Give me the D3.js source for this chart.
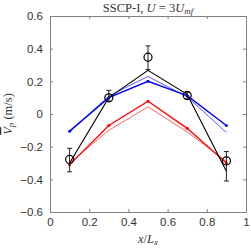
<!DOCTYPE html>
<html>
<head>
<meta charset="utf-8">
<script src="https://cdn.jsdelivr.net/npm/d3@7"></script>
<style>
body { margin: 0; background: #fff; }
svg { display: block; }
</style>
</head>
<body>
<script>
var xPos = [0.1, 0.3, 0.5, 0.7, 0.9];
var expMean = [-0.278, 0.099, 0.348, 0.113, -0.287];
var expLow = [-0.354, 0.078, 0.272, 0.092, -0.41];
var expHigh = [-0.21, 0.145, 0.417, 0.135, -0.23];
var blackLine = [-0.30, 0.10, 0.267, 0.12, -0.35];
var blueThick = [-0.105, 0.10, 0.20, 0.112, -0.07];
var blueThin = [-0.11, 0.11, 0.23, 0.105, -0.113];
var redThick = [-0.31, -0.07, 0.078, -0.088, -0.30];
var redThin = [-0.30, -0.10, 0.044, -0.11, -0.29];
var xTicks = [0, 0.2, 0.4, 0.6, 0.8, 1];
var yTicks = [-0.6, -0.4, -0.2, 0, 0.2, 0.4, 0.6];

var W = 251, H = 249;
var m = {left: 50, right: 5, top: 16, bottom: 37};
var iw = W - m.left - m.right, ih = H - m.top - m.bottom;

var svg = d3.select("body").append("svg")
	.attr("width", W)
	.attr("height", H);

var x = d3.scaleLinear().domain([0, 1]).range([0, iw]);
var y = d3.scaleLinear().domain([-0.6, 0.6]).range([ih, 0]);

var g = svg.append("g").attr("transform", "translate(" + m.left + "," + m.top + ")");

var axColor = "#808080";
var fmt = function(d) { return d === 0 ? "0" : d3.format("")(+d.toFixed(1)); };

function styleAxis(sel, showText) {
	sel.select(".domain").attr("stroke", axColor).attr("stroke-width", 1);
	sel.selectAll(".tick line").attr("stroke", axColor);
	sel.selectAll("text")
		.attr("font-family", "Liberation Sans, Arial, sans-serif")
		.attr("font-size", 11.5)
		.attr("fill", "#333")
		.style("display", showText ? null : "none");
}

g.append("g").attr("transform", "translate(0," + ih + ")")
	.call(d3.axisBottom(x).tickValues(xTicks).tickSize(-3).tickSizeOuter(0).tickPadding(6).tickFormat(fmt))
	.call(styleAxis, true);
g.append("g")
	.call(d3.axisTop(x).tickValues(xTicks).tickSize(-3).tickSizeOuter(0).tickFormat(""))
	.call(styleAxis, false);
g.append("g")
	.call(d3.axisLeft(y).tickValues(yTicks).tickSize(-3).tickSizeOuter(0).tickPadding(7).tickFormat(fmt))
	.call(styleAxis, true);
g.append("g").attr("transform", "translate(" + iw + ",0)")
	.call(d3.axisRight(y).tickValues(yTicks).tickSize(-3).tickSizeOuter(0).tickFormat(""))
	.call(styleAxis, false);

var line = d3.line()
	.x(function(d, i) { return x(xPos[i]); })
	.y(function(d) { return y(d); });

function drawSeries(vals, color, width, dots) {
	g.append("path").datum(vals)
		.attr("d", line)
		.attr("fill", "none")
		.attr("stroke", color)
		.attr("stroke-width", width);
	if (dots) {
		g.selectAll(null).data(vals).enter().append("circle")
			.attr("cx", function(d, i) { return x(xPos[i]); })
			.attr("cy", function(d) { return y(d); })
			.attr("r", 1.5)
			.attr("fill", color);
	}
}

drawSeries(redThin, "#ff5050", 0.9, false);
drawSeries(redThick, "#ff0000", 1.3, true);
drawSeries(blueThin, "#4848ff", 0.9, false);
drawSeries(blueThick, "#0000ff", 1.4, true);
drawSeries(blackLine, "#000000", 1.1, false);

// error bars
var eb = g.append("g").attr("stroke", "#222").attr("stroke-width", 1);
eb.selectAll(".v").data(xPos).enter().append("line")
	.attr("x1", function(d) { return x(d); })
	.attr("x2", function(d) { return x(d); })
	.attr("y1", function(d, i) { return y(expLow[i]); })
	.attr("y2", function(d, i) { return y(expHigh[i]); });
[expLow, expHigh].forEach(function(arr) {
	eb.selectAll(null).data(xPos).enter().append("line")
		.attr("x1", function(d) { return x(d) - 2.5; })
		.attr("x2", function(d) { return x(d) + 2.5; })
		.attr("y1", function(d, i) { return y(arr[i]); })
		.attr("y2", function(d, i) { return y(arr[i]); });
});
g.selectAll(".mk").data(expMean).enter().append("circle")
	.attr("cx", function(d, i) { return x(xPos[i]); })
	.attr("cy", function(d) { return y(d); })
	.attr("r", 4)
	.attr("fill", "none")
	.attr("stroke", "#000")
	.attr("stroke-width", 1.2);

// title
var serif = "Liberation Serif, Times New Roman, serif";
var title = svg.append("text")
	.attr("x", m.left + iw / 2)
	.attr("y", 12)
	.attr("text-anchor", "middle")
	.attr("font-family", serif)
	.attr("font-size", 12.5)
	.attr("fill", "#333");
title.append("tspan").text("SSCP-I, ");
title.append("tspan").attr("font-style", "italic").text("U");
title.append("tspan").text(" = 3");
title.append("tspan").attr("font-style", "italic").text("U");
title.append("tspan").attr("font-style", "italic").attr("font-size", 9).attr("dy", 2).text("mf");

// x label
var xl = svg.append("text")
	.attr("x", m.left + iw / 2)
	.attr("y", 243)
	.attr("text-anchor", "middle")
	.attr("font-family", serif)
	.attr("font-size", 12.5)
	.attr("fill", "#333");
xl.append("tspan").attr("font-style", "italic").text("x");
xl.append("tspan").text("/");
xl.append("tspan").attr("font-style", "italic").text("L");
xl.append("tspan").attr("font-style", "italic").attr("font-size", 9).attr("dy", 2).text("x");

// y label
var yl = svg.append("text")
	.attr("transform", "translate(12," + (m.top + ih / 2) + ")rotate(-90)")
	.attr("text-anchor", "middle")
	.attr("font-family", serif)
	.attr("font-size", 12.5)
	.attr("fill", "#333");
yl.append("tspan").attr("font-style", "italic").style("text-decoration", "overline").text("V");
yl.append("tspan").attr("font-style", "italic").attr("font-size", 9).attr("dy", 2).text("p");
yl.append("tspan").attr("dy", -2).text(" (m/s)");
</script>
</body>
</html>
